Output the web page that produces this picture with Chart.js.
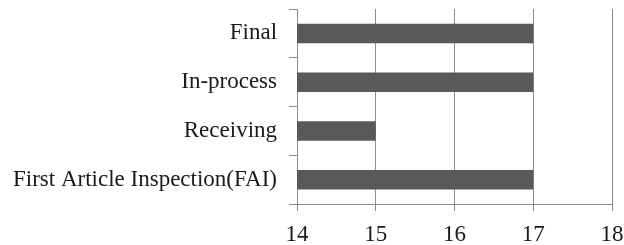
<!DOCTYPE html>
<html>
<head>
<meta charset="utf-8">
<script src="https://cdn.jsdelivr.net/npm/chart.js@4"></script>
<style>
  html, body { margin: 0; padding: 0; background: #fff; }
  #wrap { width: 624px; height: 245px; }
</style>
</head>
<body>
<div id="wrap"><canvas id="inspectionChart" width="624" height="245"></canvas></div>
<script>
// chart data
const categories = ['Final', 'In-process', 'Receiving', 'First Article Inspection(FAI)'];
const values = [17, 17, 15, 17];
const xTicks = [14, 15, 16, 17, 18];

const gridColor = '#8c8c8c';

const ctx = document.getElementById('inspectionChart').getContext('2d');
new Chart(ctx, {
    type: 'bar',
    data: {
        labels: categories,
        datasets: [{
            data: values,
            backgroundColor: '#595959',
            borderWidth: 0,
            categoryPercentage: 0.4,
            barPercentage: 1
        }]
    },
    options: {
        indexAxis: 'y',
        responsive: false,
        animation: false,
        layout: { padding: { top: 9, right: 12, left: 1, bottom: 0 } },
        plugins: { legend: { display: false }, tooltip: { enabled: false } },
        scales: {
            x: {
                min: xTicks[0],
                max: xTicks[xTicks.length - 1],
                afterBuildTicks: axis => { axis.ticks = xTicks.map(v => ({ value: v })); },
                afterFit: axis => {
                    axis.height = 41;
                    axis.paddingLeft = 0;
                    axis.paddingRight = 0;
                },
                grid: { color: gridColor, lineWidth: 1, tickLength: 7 },
                border: { color: gridColor },
                ticks: { color: '#1a1a1a', padding: 12, maxRotation: 0, font: { family: 'Liberation Serif', size: 23, lineHeight: 1 } }
            },
            y: {
                afterFit: axis => {
                    axis.paddingTop = 0;
                    axis.paddingBottom = 0;
                },
                grid: { offset: true, drawOnChartArea: false, color: gridColor, tickLength: 8 },
                border: { color: gridColor },
                ticks: { color: '#1a1a1a', padding: 12, font: { family: 'Liberation Serif', size: 23 } }
            }
        }
    }
});
</script>
</body>
</html>
